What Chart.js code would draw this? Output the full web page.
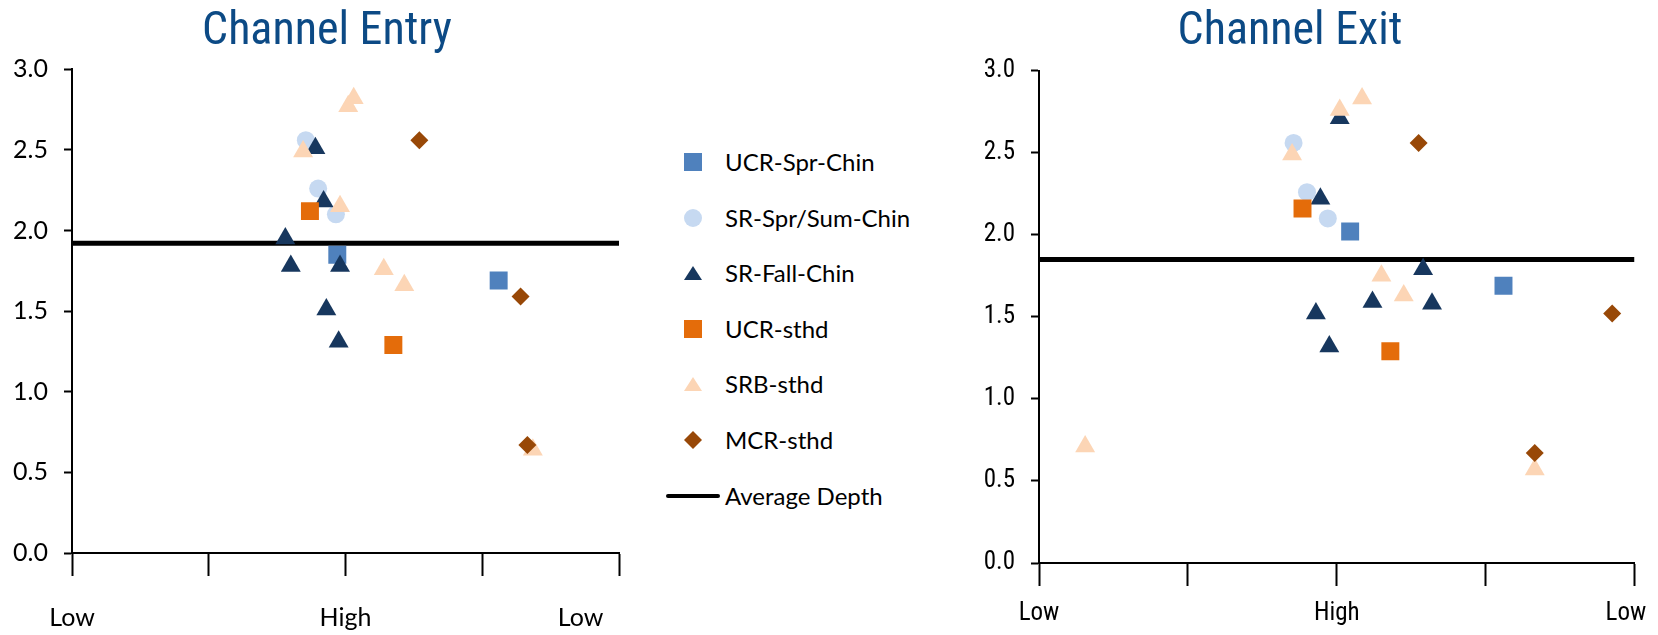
<!DOCTYPE html>
<html>
<head>
    <title>Channel Entry / Channel Exit</title>
    <script src="https://cdn.jsdelivr.net/npm/chart.js"></script>
    <style>
        body {
            margin: 0;
            background: #ffffff;
            width: 1658px;
            height: 635px;
            position: relative;
            overflow: hidden;
            font-family: Lato, 'Noto Sans', sans-serif;
        }
        .panel {
            position: absolute;
            top: 0;
            height: 635px;
        }
        #entry-wrap { left: 0; width: 654px; }
        #exit-wrap { left: 922px; width: 736px; }
        .legend-row {
            position: absolute;
            left: 666px;
            height: 24px;
            display: flex;
            align-items: center;
            white-space: nowrap;
            font-size: 24px;
            line-height: 24px;
            color: #000000;
        }
        .legend-row svg { display: block; }
        .legend-row span { margin-left: 5px; }
    </style>
</head>
<body>
    <div class="panel" id="entry-wrap"><canvas id="entry"></canvas></div>
    <div class="panel" id="exit-wrap"><canvas id="exit"></canvas></div>
    <div id="legend"></div>

    <script>
        // x axis tick labels (0..4)
        const xTickLabels = ['Low', '', 'High', '', 'Low'];

        const seriesNames = ['UCR-Spr-Chin', 'SR-Spr/Sum-Chin', 'SR-Fall-Chin', 'UCR-sthd', 'SRB-sthd', 'MCR-sthd'];

        // Channel Entry: [x, depth]
        const entryUcrSprChin = [[1.94, 1.85], [3.12, 1.69]];
        const entrySrSprSumChin = [[1.71, 2.56], [1.80, 2.26], [1.93, 2.10]];
        const entrySrFallChin = [[1.78, 2.51], [1.84, 2.18], [1.56, 1.95], [1.60, 1.78], [1.96, 1.78], [1.86, 1.51], [1.95, 1.31]];
        const entryUcrSthd = [[1.74, 2.12], [2.35, 1.29]];
        const entrySrbSthd = [[1.69, 2.49], [2.02, 2.77], [2.06, 2.82], [1.96, 2.15], [2.28, 1.76], [2.43, 1.66], [3.37, 0.64]];
        const entryMcrSthd = [[2.54, 2.56], [3.28, 1.59], [3.33, 0.67]];
        const entryAverageDepth = 1.92;

        // Channel Exit: [x, depth]
        const exitUcrSprChin = [[2.09, 2.02], [3.12, 1.69]];
        const exitSrSprSumChin = [[1.71, 2.56], [1.80, 2.26], [1.94, 2.10]];
        const exitSrFallChin = [[2.02, 2.71], [1.89, 2.22], [1.86, 1.52], [1.95, 1.32], [2.24, 1.59], [2.58, 1.79], [2.64, 1.58]];
        const exitUcrSthd = [[1.77, 2.16], [2.36, 1.29]];
        const exitSrbSthd = [[1.70, 2.49], [2.02, 2.76], [2.17, 2.83], [2.30, 1.75], [2.45, 1.63], [0.31, 0.71], [3.33, 0.57]];
        const exitMcrSthd = [[2.55, 2.56], [3.85, 1.52], [3.33, 0.67]];
        const exitAverageDepth = 1.85;

        // marker styles
        const seriesColors = ['#4f81bd', '#c6d9f1', '#17375e', '#e46c0a', '#fcd5b5', '#984807'];
        const seriesShapes = ['rect', 'circle', 'triangle', 'rect', 'triangle', 'rectRot'];
        const seriesRadius = [12.7, 9, 11.5, 12.7, 11.5, 9];

        const calibriLike = 'Lato, Carlito, sans-serif';
        const narrow = "'Liberation Sans Narrow', 'Arial Narrow', 'Roboto Condensed', sans-serif";

        function makeChart(id, cfg) {
            const datasets = cfg.series.map((pts, i) => ({
                label: seriesNames[i],
                data: pts.map(p => ({ x: p[0], y: p[1] })),
                pointStyle: seriesShapes[i],
                pointRadius: seriesRadius[i],
                pointBackgroundColor: seriesColors[i],
                pointBorderWidth: 0,
                showLine: false,
                order: seriesNames.length - i
            }));
            datasets.push({
                type: 'line',
                label: 'Average Depth',
                data: [{ x: 0, y: cfg.average }, { x: 4, y: cfg.average }],
                borderColor: '#000000',
                borderWidth: 5,
                pointRadius: 0,
                order: 20
            });

            return new Chart(document.getElementById(id), {
                type: 'scatter',
                data: { datasets: datasets },
                options: {
                    responsive: true,
                    maintainAspectRatio: false,
                    animation: false,
                    layout: { padding: 0 },
                    plugins: {
                        legend: { display: false },
                        tooltip: { enabled: false },
                        title: {
                            display: true,
                            text: cfg.title,
                            color: '#0c4a85',
                            font: { family: narrow, size: 46, weight: 'normal' },
                            padding: { top: 5, bottom: cfg.titleGap }
                        }
                    },
                    scales: {
                        x: {
                            type: 'linear',
                            min: 0,
                            max: 4,
                            afterFit: s => {
                                s.height = cfg.xHeight;
                                s.paddingLeft = 0;
                                s.paddingRight = cfg.rightGap;
                            },
                            border: { color: '#000000', width: 2 },
                            grid: { drawOnChartArea: false, tickLength: 23, tickColor: '#000000', tickWidth: 2 },
                            ticks: {
                                stepSize: 1,
                                autoSkip: false,
                                maxRotation: 0,
                                padding: cfg.xPad,
                                color: '#000000',
                                font: { family: cfg.tickFont, size: cfg.tickSize },
                                callback: v => {
                                    const label = xTickLabels[v];
                                    // the last label sits left of its tick in the original
                                    return v === 4 ? label + ' '.repeat(cfg.lastShift) : label;
                                }
                            }
                        },
                        y: {
                            min: 0,
                            max: 3,
                            afterFit: s => {
                                s.width = cfg.yWidth;
                                s.paddingTop = 0;
                                s.paddingBottom = 0;
                            },
                            border: { color: '#000000', width: 2 },
                            grid: { drawOnChartArea: false, tickLength: 8, tickColor: '#000000', tickWidth: 2 },
                            ticks: {
                                stepSize: 0.5,
                                padding: 16,
                                color: '#000000',
                                font: { family: cfg.tickFont, size: cfg.tickSize },
                                callback: v => v.toFixed(1)
                            }
                        }
                    }
                }
            });
        }

        makeChart('entry', {
            title: 'Channel Entry',
            titleGap: 9,
            series: [entryUcrSprChin, entrySrSprSumChin, entrySrFallChin, entryUcrSthd, entrySrbSthd, entryMcrSthd],
            average: entryAverageDepth,
            yWidth: 72,
            xHeight: 82,
            rightGap: 35,
            xPad: 27,
            lastShift: 12,
            tickFont: calibriLike,
            tickSize: 25
        });

        makeChart('exit', {
            title: 'Channel Exit',
            titleGap: 10.5,
            series: [exitUcrSprChin, exitSrSprSumChin, exitSrFallChin, exitUcrSthd, exitSrbSthd, exitMcrSthd],
            average: exitAverageDepth,
            yWidth: 117,
            xHeight: 72,
            rightGap: 23.5,
            xPad: 13,
            lastShift: 3,
            tickFont: narrow,
            tickSize: 25
        });

        // legend
        function legendIcon(shape, color) {
            let body;
            if (shape === 'rect') body = `<rect x="18" y="3" width="18" height="18" fill="${color}"/>`;
            else if (shape === 'circle') body = `<circle cx="27" cy="12" r="9" fill="${color}"/>`;
            else if (shape === 'triangle') body = `<polygon points="27,5 36,19 18,19" fill="${color}"/>`;
            else if (shape === 'rectRot') body = `<polygon points="27,3 36,12 27,21 18,12" fill="${color}"/>`;
            else body = `<line x1="2" y1="12" x2="52" y2="12" stroke="${color}" stroke-width="4" stroke-linecap="round"/>`;
            return `<svg width="54" height="24" viewBox="0 0 54 24">${body}</svg>`;
        }

        const legendItems = seriesNames.map((name, i) => ({ name, shape: seriesShapes[i], color: seriesColors[i] }));
        legendItems.push({ name: 'Average Depth', shape: 'line', color: '#000000' });

        document.getElementById('legend').innerHTML = legendItems.map((item, i) => `
            <div class="legend-row" style="top:${150 + i * 55.6}px">
                ${legendIcon(item.shape, item.color)}<span>${item.name}</span>
            </div>
        `).join('');
    </script>
</body>
</html>
